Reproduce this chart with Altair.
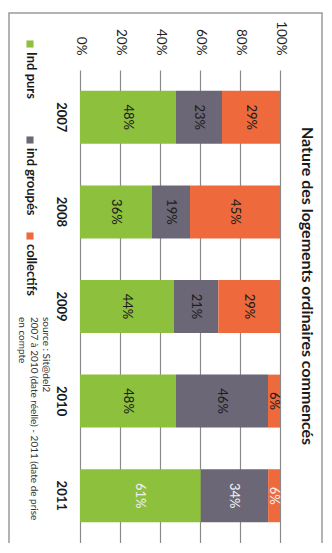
import altair as alt
import pandas as pd

# ---- data ----
years = ["2007", "2008", "2009", "2010", "2011"]
series = ["ind purs", "ind groupés", "collectifs"]
legend_labels = ["Ind purs", "ind groupés", "collectifs"]
colors = ["#8dc03c", "#6b6777", "#ee6a3c"]
ind_purs = [48, 36, 44, 48, 61]
ind_groupes = [23, 19, 21, 46, 34]
collectifs = [29, 45, 29, 6, 6]
tick_values = [0, 0.2, 0.4, 0.6, 0.8, 1.0]
title_text = "Nature des logements ordinaires commencés"
source_lines = [
    "source : Sit@del2",
    "2007 à 2010 (date réelle) - 2011 (date de prise",
    "en compte",
]

rows = []
for i, y in enumerate(years):
    for k, (s, vals) in enumerate(zip(series, [ind_purs, ind_groupes, collectifs])):
        rows.append({"year": y, "serie": s, "order": k, "value": vals[i]})
df = pd.DataFrame(rows)

W, H = 200, 473
FONT = "Lato"

base = (
    alt.Chart(df)
    .transform_joinaggregate(total="sum(value)", groupby=["year"])
    .transform_window(
        cum="sum(value)", sort=[alt.SortField("order")], groupby=["year"], frame=[None, 0]
    )
    .transform_calculate(
        start="(datum.cum - datum.value) / datum.total",
        end="datum.cum / datum.total",
        mid="(datum.cum - datum.value / 2) / datum.total",
        label="datum.value + '%'",
    )
)

yscale = alt.Scale(domain=years, paddingInner=0.44, paddingOuter=0.22)
xscale = alt.Scale(domain=[0, 1], nice=False, zero=True)
cscale = alt.Scale(domain=series, range=colors)

y_axis = alt.Axis(
    title=None, domain=False, ticks=False, labelAngle=90, labelAlign="center",
    labelBaseline="top", labelPadding=14, labelFont=FONT, labelFontWeight="bold",
    labelFontSize=13, labelColor="#1a1a1a", labelOverlap=False,
)
x_axis = alt.Axis(
    orient="top", values=tick_values, format="%", title=None, domain=False,
    ticks=False, grid=True, gridColor="#8a8a8a", gridWidth=1.2, labelAngle=90,
    labelAlign="right", labelBaseline="middle", labelPadding=15, labelFont=FONT,
    labelFontSize=13.5, labelColor="#222222", labelOverlap=False,
)

bars = base.mark_bar().encode(
    x=alt.X("start:Q", scale=xscale, axis=x_axis),
    x2="end:Q",
    y=alt.Y("year:N", sort=years, scale=yscale, axis=y_axis),
    color=alt.Color("serie:N", scale=cscale, legend=None),
)

texts = base.mark_text(angle=90, font=FONT, fontSize=13, fontWeight=500).encode(
    x=alt.X("mid:Q", scale=xscale, axis=x_axis),
    y=alt.Y("year:N", sort=years, scale=yscale, axis=y_axis),
    text="label:N",
    color=alt.condition("datum.year == '2011'", alt.value("#eeeeee"), alt.value("#1f1f1f")),
)

main = alt.layer(bars, texts)

# ---- legend (rotated, on the left) ----
leg_df = pd.DataFrame({"serie": series, "label": legend_labels})
leg_y = alt.Y(
    "serie:N", sort=series,
    scale=alt.Scale(type="point", domain=series, range=[-26, 166], padding=0),
    axis=None,
)
leg_sq = alt.Chart(leg_df).mark_square(size=50, opacity=1).encode(
    x=alt.value(-50), y=leg_y,
    color=alt.Color("serie:N", scale=cscale, legend=None),
)
leg_tx = alt.Chart(leg_df).mark_text(
    angle=90, align="left", baseline="middle", dx=8, font=FONT,
    fontWeight="bold", fontSize=13, color="#1a1a1a",
).encode(x=alt.value(-49), y=leg_y, text="label:N")

one = pd.DataFrame({"k": [0]})
source = alt.Chart(one).mark_text(
    text=source_lines, angle=90, align="left", baseline="top", font=FONT,
    fontSize=10, lineHeight=12, color="#333333",
).encode(x=alt.value(-29), y=alt.value(247))

# rotated title, reading top to bottom on the right
title = alt.Chart(one).mark_text(
    text=title_text, angle=90, align="center", baseline="alphabetic", font=FONT,
    fontSize=16, fontWeight="bold", color="#1a1a1a",
).encode(x=alt.value(222), y=alt.value(216))

frame = alt.Chart(one).mark_rect(
    fillOpacity=0, stroke="#9a9a9a", strokeWidth=1.5
).encode(x=alt.value(-71), x2=alt.value(242), y=alt.value(-57), y2=alt.value(520))

chart = (
    alt.layer(frame, main, leg_sq, leg_tx, source, title)
    .resolve_scale(y="independent")
    .properties(
        width=W, height=H,
        autosize=alt.AutoSizeParams(type="none"),
        padding={"left": 72, "top": 62, "right": 44, "bottom": 0},
    )
    .configure_view(stroke=None)
)

chart.save("out.html", embed_options={"renderer": "svg", "actions": False})
